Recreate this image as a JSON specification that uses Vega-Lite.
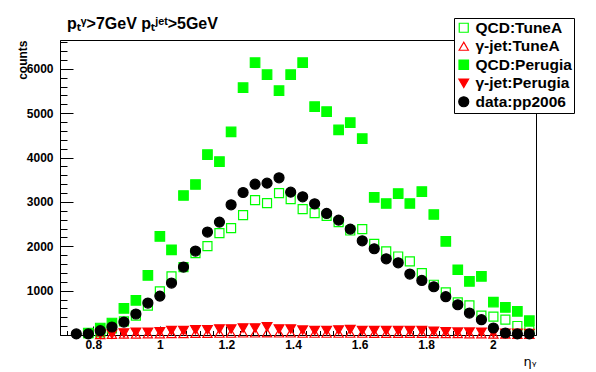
{
  "$schema": "https://vega.github.io/schema/vega-lite/v6.json",
  "width": 476,
  "height": 295,
  "autosize": "none",
  "padding": {"left": 60, "top": 40, "right": 60, "bottom": 37},
  "background": "white",
  "title": {"text": "pₜᵞ>7GeV pₜʲᵉᵗ>5GeV", "anchor": "start", "frame": "group", "dx": 7, "dy": 37, "offset": 10, "baseline": "alphabetic", "font": "Liberation Sans", "fontWeight": "bold", "fontSize": 16, "color": "black"},
  "config": {
    "view": {"stroke": "black", "strokeWidth": 1},
    "axis": {"grid": false, "domainColor": "black", "tickColor": "black", "labelColor": "black", "titleColor": "black", "labelFont": "Liberation Sans", "labelFontWeight": "bold", "labelFontSize": 12, "titleFont": "Liberation Sans", "domainWidth": 1, "tickWidth": 1}
  },
  "data": {"values": [
    {"series": "QCD:TuneA", "eta": 0.785, "counts": 40},
    {"series": "QCD:TuneA", "eta": 0.821, "counts": 60},
    {"series": "QCD:TuneA", "eta": 0.856, "counts": 150},
    {"series": "QCD:TuneA", "eta": 0.892, "counts": 306},
    {"series": "QCD:TuneA", "eta": 0.928, "counts": 435},
    {"series": "QCD:TuneA", "eta": 0.964, "counts": 660},
    {"series": "QCD:TuneA", "eta": 1.000, "counts": 983},
    {"series": "QCD:TuneA", "eta": 1.035, "counts": 1321},
    {"series": "QCD:TuneA", "eta": 1.071, "counts": 1531},
    {"series": "QCD:TuneA", "eta": 1.107, "counts": 1847},
    {"series": "QCD:TuneA", "eta": 1.143, "counts": 2004},
    {"series": "QCD:TuneA", "eta": 1.179, "counts": 2297},
    {"series": "QCD:TuneA", "eta": 1.214, "counts": 2410},
    {"series": "QCD:TuneA", "eta": 1.250, "counts": 2703},
    {"series": "QCD:TuneA", "eta": 1.286, "counts": 3040},
    {"series": "QCD:TuneA", "eta": 1.322, "counts": 2973},
    {"series": "QCD:TuneA", "eta": 1.358, "counts": 3198},
    {"series": "QCD:TuneA", "eta": 1.393, "counts": 3063},
    {"series": "QCD:TuneA", "eta": 1.429, "counts": 2838},
    {"series": "QCD:TuneA", "eta": 1.465, "counts": 2748},
    {"series": "QCD:TuneA", "eta": 1.501, "counts": 2687},
    {"series": "QCD:TuneA", "eta": 1.537, "counts": 2545},
    {"series": "QCD:TuneA", "eta": 1.572, "counts": 2356},
    {"series": "QCD:TuneA", "eta": 1.608, "counts": 2387},
    {"series": "QCD:TuneA", "eta": 1.644, "counts": 2056},
    {"series": "QCD:TuneA", "eta": 1.680, "counts": 1883},
    {"series": "QCD:TuneA", "eta": 1.716, "counts": 1770},
    {"series": "QCD:TuneA", "eta": 1.751, "counts": 1658},
    {"series": "QCD:TuneA", "eta": 1.787, "counts": 1396},
    {"series": "QCD:TuneA", "eta": 1.823, "counts": 1133},
    {"series": "QCD:TuneA", "eta": 1.859, "counts": 960},
    {"series": "QCD:TuneA", "eta": 1.895, "counts": 734},
    {"series": "QCD:TuneA", "eta": 1.930, "counts": 667},
    {"series": "QCD:TuneA", "eta": 1.966, "counts": 435},
    {"series": "QCD:TuneA", "eta": 2.002, "counts": 412},
    {"series": "QCD:TuneA", "eta": 2.038, "counts": 345},
    {"series": "QCD:TuneA", "eta": 2.074, "counts": 203},
    {"series": "QCD:TuneA", "eta": 2.110, "counts": 97},

    {"series": "γ-jet:TuneA", "eta": 0.821, "counts": 10},
    {"series": "γ-jet:TuneA", "eta": 0.856, "counts": 15},
    {"series": "γ-jet:TuneA", "eta": 0.892, "counts": 20},
    {"series": "γ-jet:TuneA", "eta": 0.928, "counts": 20},
    {"series": "γ-jet:TuneA", "eta": 0.964, "counts": 25},
    {"series": "γ-jet:TuneA", "eta": 1.000, "counts": 25},
    {"series": "γ-jet:TuneA", "eta": 1.035, "counts": 30},
    {"series": "γ-jet:TuneA", "eta": 1.071, "counts": 30},
    {"series": "γ-jet:TuneA", "eta": 1.107, "counts": 35},
    {"series": "γ-jet:TuneA", "eta": 1.143, "counts": 35},
    {"series": "γ-jet:TuneA", "eta": 1.179, "counts": 40},
    {"series": "γ-jet:TuneA", "eta": 1.214, "counts": 40},
    {"series": "γ-jet:TuneA", "eta": 1.250, "counts": 45},
    {"series": "γ-jet:TuneA", "eta": 1.286, "counts": 45},
    {"series": "γ-jet:TuneA", "eta": 1.322, "counts": 50},
    {"series": "γ-jet:TuneA", "eta": 1.358, "counts": 45},
    {"series": "γ-jet:TuneA", "eta": 1.393, "counts": 45},
    {"series": "γ-jet:TuneA", "eta": 1.429, "counts": 40},
    {"series": "γ-jet:TuneA", "eta": 1.465, "counts": 40},
    {"series": "γ-jet:TuneA", "eta": 1.501, "counts": 40},
    {"series": "γ-jet:TuneA", "eta": 1.537, "counts": 40},
    {"series": "γ-jet:TuneA", "eta": 1.572, "counts": 40},
    {"series": "γ-jet:TuneA", "eta": 1.608, "counts": 40},
    {"series": "γ-jet:TuneA", "eta": 1.644, "counts": 35},
    {"series": "γ-jet:TuneA", "eta": 1.680, "counts": 35},
    {"series": "γ-jet:TuneA", "eta": 1.716, "counts": 35},
    {"series": "γ-jet:TuneA", "eta": 1.751, "counts": 35},
    {"series": "γ-jet:TuneA", "eta": 1.787, "counts": 35},
    {"series": "γ-jet:TuneA", "eta": 1.823, "counts": 30},
    {"series": "γ-jet:TuneA", "eta": 1.859, "counts": 30},
    {"series": "γ-jet:TuneA", "eta": 1.895, "counts": 30},
    {"series": "γ-jet:TuneA", "eta": 1.930, "counts": 25},
    {"series": "γ-jet:TuneA", "eta": 1.966, "counts": 25},
    {"series": "γ-jet:TuneA", "eta": 2.002, "counts": 20},
    {"series": "γ-jet:TuneA", "eta": 2.038, "counts": 20},
    {"series": "γ-jet:TuneA", "eta": 2.074, "counts": 15},
    {"series": "γ-jet:TuneA", "eta": 2.110, "counts": 15},

    {"series": "QCD:Perugia", "eta": 0.785, "counts": 45},
    {"series": "QCD:Perugia", "eta": 0.821, "counts": 158},
    {"series": "QCD:Perugia", "eta": 0.856, "counts": 270},
    {"series": "QCD:Perugia", "eta": 0.892, "counts": 600},
    {"series": "QCD:Perugia", "eta": 0.928, "counts": 780},
    {"series": "QCD:Perugia", "eta": 0.964, "counts": 1343},
    {"series": "QCD:Perugia", "eta": 1.000, "counts": 2221},
    {"series": "QCD:Perugia", "eta": 1.035, "counts": 1921},
    {"series": "QCD:Perugia", "eta": 1.071, "counts": 3145},
    {"series": "QCD:Perugia", "eta": 1.107, "counts": 3393},
    {"series": "QCD:Perugia", "eta": 1.143, "counts": 4068},
    {"series": "QCD:Perugia", "eta": 1.179, "counts": 3910},
    {"series": "QCD:Perugia", "eta": 1.214, "counts": 4579},
    {"series": "QCD:Perugia", "eta": 1.250, "counts": 5577},
    {"series": "QCD:Perugia", "eta": 1.286, "counts": 6140},
    {"series": "QCD:Perugia", "eta": 1.322, "counts": 5870},
    {"series": "QCD:Perugia", "eta": 1.358, "counts": 5509},
    {"series": "QCD:Perugia", "eta": 1.393, "counts": 5870},
    {"series": "QCD:Perugia", "eta": 1.429, "counts": 6140},
    {"series": "QCD:Perugia", "eta": 1.465, "counts": 5149},
    {"series": "QCD:Perugia", "eta": 1.501, "counts": 5036},
    {"series": "QCD:Perugia", "eta": 1.537, "counts": 4624},
    {"series": "QCD:Perugia", "eta": 1.572, "counts": 4789},
    {"series": "QCD:Perugia", "eta": 1.608, "counts": 4428},
    {"series": "QCD:Perugia", "eta": 1.644, "counts": 3100},
    {"series": "QCD:Perugia", "eta": 1.680, "counts": 2964},
    {"series": "QCD:Perugia", "eta": 1.716, "counts": 3189},
    {"series": "QCD:Perugia", "eta": 1.751, "counts": 2964},
    {"series": "QCD:Perugia", "eta": 1.787, "counts": 3234},
    {"series": "QCD:Perugia", "eta": 1.823, "counts": 2716},
    {"series": "QCD:Perugia", "eta": 1.859, "counts": 2109},
    {"series": "QCD:Perugia", "eta": 1.895, "counts": 1471},
    {"series": "QCD:Perugia", "eta": 1.930, "counts": 1208},
    {"series": "QCD:Perugia", "eta": 1.966, "counts": 1321},
    {"series": "QCD:Perugia", "eta": 2.002, "counts": 743},
    {"series": "QCD:Perugia", "eta": 2.038, "counts": 622},
    {"series": "QCD:Perugia", "eta": 2.074, "counts": 532},
    {"series": "QCD:Perugia", "eta": 2.110, "counts": 322},

    {"series": "γ-jet:Perugia", "eta": 0.821, "counts": 15},
    {"series": "γ-jet:Perugia", "eta": 0.856, "counts": 22},
    {"series": "γ-jet:Perugia", "eta": 0.892, "counts": 45},
    {"series": "γ-jet:Perugia", "eta": 0.928, "counts": 60},
    {"series": "γ-jet:Perugia", "eta": 0.964, "counts": 60},
    {"series": "γ-jet:Perugia", "eta": 1.000, "counts": 74},
    {"series": "γ-jet:Perugia", "eta": 1.035, "counts": 97},
    {"series": "γ-jet:Perugia", "eta": 1.071, "counts": 97},
    {"series": "γ-jet:Perugia", "eta": 1.107, "counts": 119},
    {"series": "γ-jet:Perugia", "eta": 1.143, "counts": 119},
    {"series": "γ-jet:Perugia", "eta": 1.179, "counts": 135},
    {"series": "γ-jet:Perugia", "eta": 1.214, "counts": 135},
    {"series": "γ-jet:Perugia", "eta": 1.250, "counts": 158},
    {"series": "γ-jet:Perugia", "eta": 1.286, "counts": 158},
    {"series": "γ-jet:Perugia", "eta": 1.322, "counts": 187},
    {"series": "γ-jet:Perugia", "eta": 1.358, "counts": 135},
    {"series": "γ-jet:Perugia", "eta": 1.393, "counts": 135},
    {"series": "γ-jet:Perugia", "eta": 1.429, "counts": 110},
    {"series": "γ-jet:Perugia", "eta": 1.465, "counts": 100},
    {"series": "γ-jet:Perugia", "eta": 1.501, "counts": 100},
    {"series": "γ-jet:Perugia", "eta": 1.537, "counts": 112},
    {"series": "γ-jet:Perugia", "eta": 1.572, "counts": 120},
    {"series": "γ-jet:Perugia", "eta": 1.608, "counts": 100},
    {"series": "γ-jet:Perugia", "eta": 1.644, "counts": 97},
    {"series": "γ-jet:Perugia", "eta": 1.680, "counts": 97},
    {"series": "γ-jet:Perugia", "eta": 1.716, "counts": 97},
    {"series": "γ-jet:Perugia", "eta": 1.751, "counts": 97},
    {"series": "γ-jet:Perugia", "eta": 1.787, "counts": 97},
    {"series": "γ-jet:Perugia", "eta": 1.823, "counts": 85},
    {"series": "γ-jet:Perugia", "eta": 1.859, "counts": 70},
    {"series": "γ-jet:Perugia", "eta": 1.895, "counts": 65},
    {"series": "γ-jet:Perugia", "eta": 1.930, "counts": 65},
    {"series": "γ-jet:Perugia", "eta": 1.966, "counts": 60},
    {"series": "γ-jet:Perugia", "eta": 2.002, "counts": 45},
    {"series": "γ-jet:Perugia", "eta": 2.038, "counts": 40},
    {"series": "γ-jet:Perugia", "eta": 2.074, "counts": 35},
    {"series": "γ-jet:Perugia", "eta": 2.110, "counts": 30},

    {"series": "data:pp2006", "eta": 0.749, "counts": 25},
    {"series": "data:pp2006", "eta": 0.785, "counts": 25},
    {"series": "data:pp2006", "eta": 0.821, "counts": 97},
    {"series": "data:pp2006", "eta": 0.856, "counts": 180},
    {"series": "data:pp2006", "eta": 0.892, "counts": 292},
    {"series": "data:pp2006", "eta": 0.928, "counts": 473},
    {"series": "data:pp2006", "eta": 0.964, "counts": 720},
    {"series": "data:pp2006", "eta": 1.000, "counts": 877},
    {"series": "data:pp2006", "eta": 1.035, "counts": 1171},
    {"series": "data:pp2006", "eta": 1.071, "counts": 1531},
    {"series": "data:pp2006", "eta": 1.107, "counts": 1892},
    {"series": "data:pp2006", "eta": 1.143, "counts": 2320},
    {"series": "data:pp2006", "eta": 1.179, "counts": 2545},
    {"series": "data:pp2006", "eta": 1.214, "counts": 2935},
    {"series": "data:pp2006", "eta": 1.250, "counts": 3212},
    {"series": "data:pp2006", "eta": 1.286, "counts": 3400},
    {"series": "data:pp2006", "eta": 1.322, "counts": 3423},
    {"series": "data:pp2006", "eta": 1.358, "counts": 3543},
    {"series": "data:pp2006", "eta": 1.393, "counts": 3220},
    {"series": "data:pp2006", "eta": 1.429, "counts": 3115},
    {"series": "data:pp2006", "eta": 1.465, "counts": 2957},
    {"series": "data:pp2006", "eta": 1.501, "counts": 2740},
    {"series": "data:pp2006", "eta": 1.537, "counts": 2590},
    {"series": "data:pp2006", "eta": 1.572, "counts": 2387},
    {"series": "data:pp2006", "eta": 1.608, "counts": 2124},
    {"series": "data:pp2006", "eta": 1.644, "counts": 1944},
    {"series": "data:pp2006", "eta": 1.680, "counts": 1718},
    {"series": "data:pp2006", "eta": 1.716, "counts": 1628},
    {"series": "data:pp2006", "eta": 1.751, "counts": 1374},
    {"series": "data:pp2006", "eta": 1.787, "counts": 1230},
    {"series": "data:pp2006", "eta": 1.823, "counts": 1088},
    {"series": "data:pp2006", "eta": 1.859, "counts": 863},
    {"series": "data:pp2006", "eta": 1.895, "counts": 682},
    {"series": "data:pp2006", "eta": 1.930, "counts": 495},
    {"series": "data:pp2006", "eta": 1.966, "counts": 345},
    {"series": "data:pp2006", "eta": 2.002, "counts": 158},
    {"series": "data:pp2006", "eta": 2.038, "counts": 45},
    {"series": "data:pp2006", "eta": 2.074, "counts": 25},
    {"series": "data:pp2006", "eta": 2.110, "counts": 25}
  ]},
  "layer": [
    {
      "mark": {"type": "point", "opacity": 0},
      "encoding": {
        "x": {"field": "eta", "type": "quantitative", "scale": {"domain": [0.7, 2.13], "nice": false, "zero": false},
              "axis": {"orient": "bottom", "values": [0.72,0.76,0.8,0.84,0.88,0.92,0.96,1.0,1.04,1.08,1.12,1.16,1.2,1.24,1.28,1.32,1.36,1.4,1.44,1.48,1.52,1.56,1.6,1.64,1.68,1.72,1.76,1.8,1.84,1.88,1.92,1.96,2.0,2.04,2.08,2.12], "labels": false, "domain": false, "title": null, "tickSize": -4.5}},
        "y": {"field": "counts", "type": "quantitative", "scale": {"domain": [0, 6650], "nice": false, "zero": true},
              "axis": {"orient": "left", "values": [200,400,600,800,1000,1200,1400,1600,1800,2000,2200,2400,2600,2800,3000,3200,3400,3600,3800,4000,4200,4400,4600,4800,5000,5200,5400,5600,5800,6000,6200,6400,6600], "labels": false, "domain": false, "title": null, "tickSize": -7}}
      }
    },
    {
      "mark": {"type": "point", "opacity": 1, "strokeWidth": 1.2},
      "encoding": {
        "x": {"field": "eta", "type": "quantitative", "scale": {"domain": [0.7, 2.13], "nice": false, "zero": false},
              "axis": {"orient": "bottom", "values": [0.8, 1.0, 1.2, 1.4, 1.6, 1.8, 2.0], "format": "~g", "tickSize": -9, "labelPadding": 13, "title": "ηᵧ", "titleFont": "DejaVu Sans", "titleFontWeight": "normal", "titleFontSize": 13, "titleX": 476, "titleY": 30, "titleAlign": "right", "titleBaseline": "alphabetic", "titleAnchor": "end"}},
        "y": {"field": "counts", "type": "quantitative", "scale": {"domain": [0, 6650], "nice": false, "zero": true},
              "axis": {"orient": "left", "values": [1000, 2000, 3000, 4000, 5000, 6000], "format": "d", "tickSize": -13, "labelPadding": 20, "title": "counts", "titleFontWeight": "bold", "titleFontSize": 12, "titleX": -34, "titleY": 0, "titleAngle": 270, "titleAlign": "right", "titleBaseline": "alphabetic", "titleAnchor": "end"}},
        "shape": {"field": "series", "type": "nominal", "scale": {"domain": ["QCD:TuneA", "γ-jet:TuneA", "QCD:Perugia", "γ-jet:Perugia", "data:pp2006"], "range": ["square", "triangle-up", "square", "triangle-down", "circle"]},
                  "legend": {"title": null, "orient": "none", "legendX": 394, "legendY": -22, "padding": 2, "strokeColor": "black", "fillColor": "white", "labelFont": "Liberation Sans", "labelFontWeight": "bold", "labelFontSize": 15.5, "labelColor": "black", "rowPadding": 1.5, "labelOffset": 4, "symbolStrokeWidth": 1.2, "labelLimit": 200}},
        "fill": {"field": "series", "type": "nominal", "scale": {"domain": ["QCD:TuneA", "γ-jet:TuneA", "QCD:Perugia", "γ-jet:Perugia", "data:pp2006"], "range": ["transparent", "transparent", "#00ff00", "#ff0000", "#000000"]},
                  "legend": {"title": null, "orient": "none", "legendX": 394, "legendY": -22, "padding": 2, "strokeColor": "black", "fillColor": "white", "labelFont": "Liberation Sans", "labelFontWeight": "bold", "labelFontSize": 15.5, "labelColor": "black", "rowPadding": 1.5, "labelOffset": 4, "symbolStrokeWidth": 1.2, "labelLimit": 200}},
        "stroke": {"field": "series", "type": "nominal", "scale": {"domain": ["QCD:TuneA", "γ-jet:TuneA", "QCD:Perugia", "γ-jet:Perugia", "data:pp2006"], "range": ["#00ff00", "#ff0000", "#00ff00", "#ff0000", "#000000"]},
                  "legend": {"title": null, "orient": "none", "legendX": 394, "legendY": -22, "padding": 2, "strokeColor": "black", "fillColor": "white", "labelFont": "Liberation Sans", "labelFontWeight": "bold", "labelFontSize": 15.5, "labelColor": "black", "rowPadding": 1.5, "labelOffset": 4, "symbolStrokeWidth": 1.2, "labelLimit": 200}},
        "size": {"field": "series", "type": "nominal", "scale": {"domain": ["QCD:TuneA", "γ-jet:TuneA", "QCD:Perugia", "γ-jet:Perugia", "data:pp2006"], "range": [81, 100, 81, 100, 110]},
                  "legend": {"title": null, "orient": "none", "legendX": 394, "legendY": -22, "padding": 2, "strokeColor": "black", "fillColor": "white", "labelFont": "Liberation Sans", "labelFontWeight": "bold", "labelFontSize": 15.5, "labelColor": "black", "rowPadding": 1.5, "labelOffset": 4, "symbolStrokeWidth": 1.2, "labelLimit": 200}}
      }
    }
  ],
  "resolve": {"axis": {"x": "independent", "y": "independent"}}
}
